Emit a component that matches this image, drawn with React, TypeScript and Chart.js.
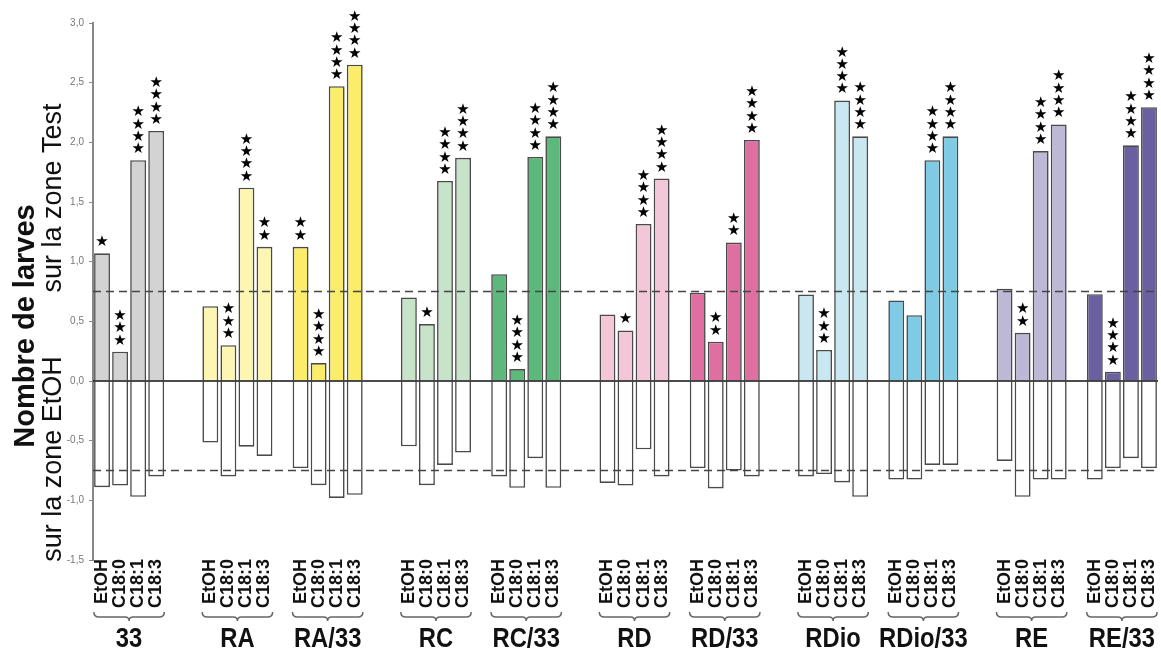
import React, { useEffect, useRef } from "react";
import { Chart, registerables } from "chart.js";

Chart.register(...registerables);

// ---------- DATA ----------
const groups = ["33", "RA", "RA/33", "RC", "RC/33", "RD", "RD/33", "RDio", "RDio/33", "RE", "RE/33"];
const treatments = ["EtOH", "C18:0", "C18:1", "C18:3"];
const yTicks = [-1.5, -1.0, -0.5, 0, 0.5, 1.0, 1.5, 2.0, 2.5, 3.0];
const thresholds = [0.75, -0.75];

// larvae on the Test zone (positive side)
const test33 = [1.07, 0.245, 1.85, 2.095];
const testRA = [0.627, 0.3, 1.62, 1.124];
const testRA33 = [1.124, 0.15, 2.47, 2.65];
const testRC = [0.7, 0.477, 1.676, 1.87];
const testRC33 = [0.895, 0.1, 1.877, 2.05];
const testRD = [0.558, 0.424, 1.316, 1.696];
const testRD33 = [0.739, 0.329, 1.16, 2.02];
const testRDio = [0.725, 0.26, 2.35, 2.05];
const testRDio33 = [0.675, 0.552, 1.85, 2.05];
const testRE = [0.772, 0.404, 1.927, 2.15];
const testRE33 = [0.728, 0.078, 1.975, 2.295];

// larvae on the EtOH zone (negative side)
const etoh33 = [-0.89, -0.876, -0.97, -0.8];
const etohRA = [-0.516, -0.8, -0.55, -0.628];
const etohRA33 = [-0.73, -0.873, -0.98, -0.954];
const etohRC = [-0.547, -0.873, -0.703, -0.6];
const etohRC33 = [-0.8, -0.895, -0.647, -0.895];
const etohRD = [-0.854, -0.876, -0.572, -0.8];
const etohRD33 = [-0.73, -0.9, -0.75, -0.8];
const etohRDio = [-0.8, -0.78, -0.85, -0.97];
const etohRDio33 = [-0.826, -0.826, -0.703, -0.703];
const etohRE = [-0.67, -0.97, -0.826, -0.826];
const etohRE33 = [-0.826, -0.73, -0.647, -0.73];

// significance stars
const stars33 = [1, 3, 4, 4];
const starsRA = [0, 3, 4, 2];
const starsRA33 = [2, 4, 4, 4];
const starsRC = [0, 1, 4, 4];
const starsRC33 = [0, 4, 4, 4];
const starsRD = [0, 1, 4, 4];
const starsRD33 = [0, 2, 2, 4];
const starsRDio = [0, 3, 4, 4];
const starsRDio33 = [0, 0, 4, 4];
const starsRE = [0, 2, 4, 4];
const starsRE33 = [0, 4, 4, 4];

const groupColors = [
  "#d3d3d3", "#fdf5b2", "#fbed6a", "#c7e3ca", "#5cb97b", "#f3c7d7",
  "#e06fa1", "#c8e7f1", "#7fcae4", "#bcb8d6", "#6a5fa0",
];

const testByGroup = [test33, testRA, testRA33, testRC, testRC33, testRD, testRD33, testRDio, testRDio33, testRE, testRE33];
const etohByGroup = [etoh33, etohRA, etohRA33, etohRC, etohRC33, etohRD, etohRD33, etohRDio, etohRDio33, etohRE, etohRE33];
const starsByGroup = [stars33, starsRA, starsRA33, starsRC, starsRC33, starsRD, starsRD33, starsRDio, starsRDio33, starsRE, starsRE33];

// ---------- build category slots ----------
type Slot = { group: number; treat: number } | null;
const slots: Slot[] = [];
groups.forEach((g, gi) => {
  treatments.forEach((_, ti) => slots.push({ group: gi, treat: ti }));
  if (gi < groups.length - 1) {
    const next = groups[gi + 1];
    const gap = next === g + "/33" ? 1 : 2;
    for (let k = 0; k < gap; k++) slots.push(null);
  }
});
const labels = slots.map((s, i) => (s ? groups[s.group] + " " + treatments[s.treat] : "gap" + i));
const posData = slots.map((s) => (s ? testByGroup[s.group][s.treat] : null));
const negData = slots.map((s) => (s ? etohByGroup[s.group][s.treat] : null));
const starData = slots.map((s) => (s ? starsByGroup[s.group][s.treat] : 0));
const posColors = slots.map((s) => (s ? groupColors[s.group] : "#fff"));

const FONT = "'Liberation Sans', Arial, sans-serif";

const overlay = {
  id: "overlay",
  afterDatasetsDraw(chart: any) {
    const { ctx, chartArea, scales } = chart;
    const y = scales.y;
    ctx.save();
    // threshold dashed lines
    ctx.strokeStyle = "#444";
    ctx.lineWidth = 1.5;
    ctx.setLineDash([8, 5]);
    thresholds.forEach((t) => {
      const py = y.getPixelForValue(t);
      ctx.beginPath();
      ctx.moveTo(chartArea.left, py);
      ctx.lineTo(chartArea.right, py);
      ctx.stroke();
    });
    ctx.setLineDash([]);
    // zero line
    const y0 = y.getPixelForValue(0);
    ctx.strokeStyle = "#111";
    ctx.lineWidth = 1.5;
    ctx.beginPath();
    ctx.moveTo(chartArea.left, y0);
    ctx.lineTo(chartArea.right, y0);
    ctx.stroke();

    // stars
    const meta = chart.getDatasetMeta(0);
    ctx.fillStyle = "#000";
    ctx.font = "15px 'DejaVu Sans'";
    ctx.textAlign = "center";
    ctx.textBaseline = "middle";
    meta.data.forEach((el: any, i: number) => {
      const n = starData[i];
      for (let k = 0; k < n; k++) {
        ctx.fillText("★", el.x, el.y - 11 - k * 12.3);
      }
    });

    // x labels (rotated), braces, group names
    const x = scales.x;
    const firstIdx: number[] = [];
    const lastIdx: number[] = [];
    slots.forEach((s, i) => {
      if (!s) return;
      if (firstIdx[s.group] === undefined) firstIdx[s.group] = i;
      lastIdx[s.group] = i;
      const px = x.getPixelForValue(i);
      ctx.save();
      ctx.translate(px, 559);
      ctx.rotate(-Math.PI / 2);
      ctx.font = `bold 18px ${FONT}`;
      ctx.fillStyle = "#111";
      ctx.textAlign = "right";
      ctx.textBaseline = "middle";
      ctx.fillText(treatments[s.treat], 0, 0);
      ctx.restore();
    });
    const slotW = x.getPixelForValue(1) - x.getPixelForValue(0);
    groups.forEach((g, gi) => {
      const xl = x.getPixelForValue(firstIdx[gi]) - slotW * 0.45;
      const xr = x.getPixelForValue(lastIdx[gi]) + slotW * 0.45;
      const xc = (xl + xr) / 2;
      const top = 612;
      const mid = 617;
      ctx.strokeStyle = "#666";
      ctx.lineWidth = 1.5;
      ctx.beginPath();
      ctx.moveTo(xl, top);
      ctx.quadraticCurveTo(xl, mid, xl + 5, mid);
      ctx.lineTo(xc - 4, mid);
      ctx.quadraticCurveTo(xc, mid, xc, mid + 4);
      ctx.quadraticCurveTo(xc, mid, xc + 4, mid);
      ctx.lineTo(xr - 5, mid);
      ctx.quadraticCurveTo(xr, mid, xr, top);
      ctx.stroke();
      ctx.save();
      ctx.translate(xc, 647);
      ctx.scale(0.85, 1);
      ctx.fillStyle = "#111";
      ctx.font = `bold 28px ${FONT}`;
      ctx.textAlign = "center";
      ctx.textBaseline = "alphabetic";
      ctx.fillText(g, 0, 0);
      ctx.restore();
    });

    // y titles
    ctx.fillStyle = "#111";
    ctx.textAlign = "center";
    ctx.textBaseline = "alphabetic";
    const rot = (txt: string, bx: number, cy: number, font: string) => {
      ctx.save();
      ctx.translate(bx, cy);
      ctx.rotate(-Math.PI / 2);
      ctx.font = font;
      ctx.fillText(txt, 0, 0);
      ctx.restore();
    };
    rot("Nombre de larves", 34, 326, `bold 29px ${FONT}`);
    rot("sur la zone Test", 61, 198, `27px ${FONT}`);
    rot("sur la zone EtOH", 61, 459, `27px ${FONT}`);
    ctx.restore();
  },
};

export default function App() {
  const ref = useRef<HTMLCanvasElement | null>(null);
  useEffect(() => {
    if (!ref.current) return;
    const chart = new Chart(ref.current, {
      type: "bar",
      data: {
        labels,
        datasets: [
          {
            data: posData as any,
            backgroundColor: posColors,
            borderColor: "#4a4a4a",
            borderWidth: 1.6,
            barPercentage: 0.88,
            categoryPercentage: 1,
          },
          {
            data: negData as any,
            backgroundColor: "#ffffff",
            borderColor: "#4a4a4a",
            borderWidth: 1.6,
            barPercentage: 0.88,
            categoryPercentage: 1,
          },
        ],
      },
      options: {
        responsive: false,
        animation: false,
        events: [],
        layout: { padding: { top: 23, bottom: 88, left: 0, right: 3 } },
        plugins: { legend: { display: false }, tooltip: { enabled: false } },
        scales: {
          x: { display: false, stacked: true },
          y: {
            stacked: true,
            min: -1.5,
            max: 3,
            afterFit: (s: any) => {
              s.width = 93;
            },
            afterBuildTicks: (s: any) => {
              s.ticks = yTicks.map((v) => ({ value: v }));
            },
            ticks: {
              color: "#777",
              font: { size: 10, family: FONT },
              padding: 5,
              callback: (v: any) => Number(v).toFixed(1).replace(".", ","),
            },
            grid: { drawOnChartArea: false, drawTicks: true, tickLength: 4, color: "#888" },
            border: { display: true, color: "#888", width: 2 },
          },
        },
      },
      plugins: [overlay],
    });
    return () => chart.destroy();
  }, []);
  return (
    <div style={{ position: "absolute", left: 0, top: 0, width: 1161, height: 648, background: "#fff" }}>
      <canvas ref={ref} width={1161} height={648} style={{ display: "block" }} />
    </div>
  );
}
